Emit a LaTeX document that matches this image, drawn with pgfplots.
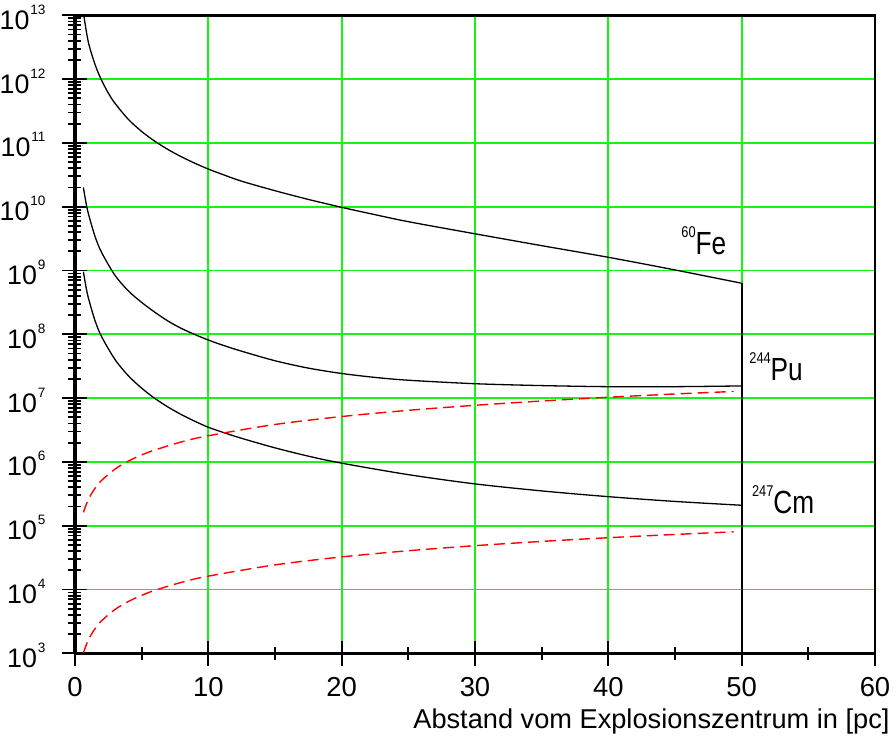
\documentclass[border=0pt]{standalone}
\usepackage{graphicx}
\usepackage{fontspec}
\setmainfont{Liberation Sans}
\usepackage{pgfplots}
\pgfplotsset{compat=1.18}
\definecolor{gridgreen}{RGB}{20,245,20}
\newcommand\ysup[1]{\raisebox{7.5pt}{\fontsize{6.8pt}{7pt}\selectfont #1}}
\newcommand\ylab[1]{10\hspace{0.4pt}\ysup{#1}}
\newcommand\iso[2]{\scalebox{0.82}[1]{\raisebox{8.5pt}{\fontsize{7.8pt}{8pt}\selectfont #1}\fontsize{16pt}{18pt}\selectfont #2}}
\begin{document}
\begin{tikzpicture}
\useasboundingbox (-37.5pt,-47.85pt) rectangle (410.5pt,326.65pt);
\begin{axis}[
  at={(0,0)}, anchor=south west,
  scale only axis, width=400pt, height=319pt,
  xmin=0, xmax=60, ymin=1e3, ymax=1e13,
  ymode=log,
  xtick={0,10,20,30,40,50,60}, minor x tick num=1,
  ytick={1e3,1e4,1e5,1e6,1e7,1e8,1e9,1e10,1e11,1e12,1e13},
  minor ytick={2e3,3e3,4e3,5e3,6e3,7e3,8e3,9e3,
    2e4,3e4,4e4,5e4,6e4,7e4,8e4,9e4,
    2e5,3e5,4e5,5e5,6e5,7e5,8e5,9e5,
    2e6,3e6,4e6,5e6,6e6,7e6,8e6,9e6,
    2e7,3e7,4e7,5e7,6e7,7e7,8e7,9e7,
    2e8,3e8,4e8,5e8,6e8,7e8,8e8,9e8,
    2e9,3e9,4e9,5e9,6e9,7e9,8e9,9e9,
    2e10,3e10,4e10,5e10,6e10,7e10,8e10,9e10,
    2e11,3e11,4e11,5e11,6e11,7e11,8e11,9e11,
    2e12,3e12,4e12,5e12,6e12,7e12,8e12,9e12},
  yticklabels={\ylab{3},\ylab{4},\ylab{5},\ylab{6},\ylab{7},\ylab{8},\ylab{9},\ylab{10},\ylab{11},\ylab{12},\ylab{13}},
  xticklabels={0,10,20,30,40,50,60},
  xtick pos=left, ytick pos=left,
  xmajorticks=true, ymajorticks=true, xminorticks=true, yminorticks=true,
  tick align=center,
  major tick length=12.5pt, minor tick length=6.5pt,
  tick style={black, line width=0.9pt},
  xmajorgrids, ymajorgrids,
  major grid style={gridgreen, line width=0.9pt},
  axis line style={black, line width=1.4pt},
  yticklabel style={font=\fontsize{13.4pt}{15pt}\selectfont, anchor=base east, inner sep=0pt, xshift=-8.35pt, yshift=-7pt},
  xticklabel style={font=\fontsize{13.7pt}{15pt}\selectfont, anchor=base, inner sep=0pt, yshift=-15.5pt},
  xlabel={Abstand vom Explosionszentrum in [pc]},
  xlabel style={font=\fontsize{13.6pt}{15pt}\selectfont, at={(rel axis cs:1,0)}, anchor=base east, inner sep=0pt, xshift=7.5pt, yshift=-37.5pt},
  clip=true,
]
% 60Fe
\addplot[black, line width=0.65pt, smooth] coordinates {
(0.66,1e13) (1.0,3.8e12) (1.5,1.7e12) (1.95,1e12) (2.5,6.03e11) (3,4.17e11) (4,2.34e11)
(5,1.51e11) (6,1.057e11) (7,7.82e10) (8,6.03e10) (9,4.79e10) (10,3.89e10) (11,3.24e10)
(12.5,2.51e10) (15,1.78e10) (17.5,1.30e10) (20,9.77e9) (22.5,7.50e9) (25,5.82e9)
(30,3.76e9) (35,2.45e9) (40,1.61e9) (45,1.02e9) (50,6.31e8)};
\addplot[black, line width=1.0pt] coordinates {(50,6.31e8) (50,1e3)};
% 244Pu
\addplot[black, line width=0.65pt, smooth] coordinates {
(0.63,2.0e10) (0.8,1.23e10) (1,7.82e9) (1.5,3.43e9) (2,1.91e9) (3,8.39e8) (4,4.79e8)
(5,3.16e8) (6,2.21e8) (7,1.60e8) (8,1.23e8) (9,9.89e7) (10,8.13e7) (11,6.84e7)
(12.5,5.43e7) (15,3.85e7) (17.5,2.95e7) (20,2.43e7) (22.5,2.11e7) (25,1.905e7)
(30,1.68e7) (35,1.57e7) (40,1.51e7) (45,1.51e7) (50,1.55e7)};
% 247Cm
\addplot[black, line width=0.65pt, smooth] coordinates {
(0.63,9.55e8) (0.8,5.89e8) (1,3.74e8) (1.5,1.64e8) (2,9.16e7) (3,4.02e7) (4,2.24e7)
(5,1.43e7) (6,9.84e6) (7,7.19e6) (8,5.48e6) (9,4.32e6) (10,3.49e6) (11,2.95e6)
(12.5,2.34e6) (15,1.66e6) (17.5,1.23e6) (20,9.55e5) (25,6.31e5) (30,4.52e5)
(35,3.51e5) (40,2.85e5) (45,2.40e5) (50,2.09e5)};
% red dashed upper
\addplot[red, line width=0.7pt, dash pattern=on 5.5pt off 3pt, smooth] coordinates {
(0.63,1.62e5) (1,2.57e5) (1.5,3.86e5) (2,5.14e5) (3,7.71e5) (4,1.03e6) (5,1.285e6)
(6,1.54e6) (8,2.06e6) (10,2.57e6) (15,3.86e6) (20,5.14e6) (25,6.43e6) (30,7.71e6)
(35,9.0e6) (40,1.03e7) (45,1.16e7) (49.4,1.27e7)};
% red dashed lower
\addplot[red, line width=0.7pt, dash pattern=on 5.5pt off 3pt, smooth] coordinates {
(0.63,1020) (1,1620) (1.5,2430) (2,3240) (3,4860) (4,6480) (5,8100) (6,9720)
(8,12960) (10,16200) (15,24300) (20,32400) (25,40500) (30,48600) (35,56700)
(40,64800) (45,72900) (49.4,80030)};
\end{axis}
\begin{axis}[
  at={(0,0)}, anchor=south west,
  scale only axis, width=400pt, height=319pt,
  xmin=0, xmax=60, ymin=1e3, ymax=1e13, ymode=log,
  hide axis, clip=false,
]
\draw[black, line width=2.35pt] (rel axis cs:0,0) -- (rel axis cs:0,1);
\node[anchor=base west, inner sep=0pt] at (axis cs:45.45,1.75e9) {\iso{60}{Fe}};
\node[anchor=base west, inner sep=0pt] at (axis cs:50.55,1.92e7) {\iso{244}{Pu}};
\node[anchor=base west, inner sep=0pt] at (axis cs:50.75,1.56e5) {\iso{247}{Cm}};
\end{axis}
\end{tikzpicture}
\end{document}
